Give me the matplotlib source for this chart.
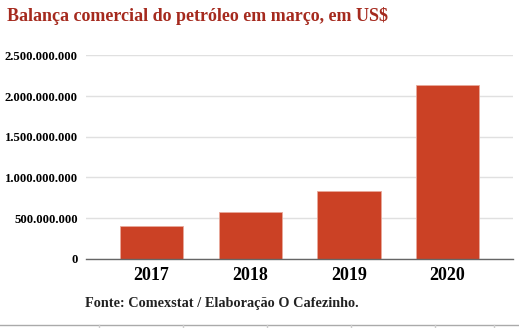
import matplotlib.pyplot as plt
from matplotlib.lines import Line2D
from matplotlib.ticker import FuncFormatter

# dados
anos = ["2017", "2018", "2019", "2020"]
saldo = [402e6, 574e6, 828e6, 2134e6]
yticks = [0, 500e6, 1000e6, 1500e6, 2000e6, 2500e6]

plt.rcParams['font.family'] = ['Liberation Serif', 'DejaVu Serif']
plt.rcParams['font.weight'] = 'bold'

fig = plt.figure(figsize=(5.19, 3.28), dpi=100)
ax = fig.add_axes([86 / 519, 69.3 / 328, 427 / 519, 203.3 / 328])

x = range(len(anos))
ax.bar(x, saldo, width=0.644, color='#cb4125', edgecolor='#e8a99b', linewidth=0.6, zorder=3)

ax.set_xlim(-0.666, 3.664)
ax.set_ylim(0, 2500e6)
ax.set_yticks(yticks)
ax.yaxis.set_major_formatter(FuncFormatter(lambda v, p: f"{int(v):,}".replace(",", ".")))
ax.set_xticks(list(x))
ax.set_xticklabels(anos, fontsize=13, fontweight='bold')
ax.tick_params(axis='y', length=0, pad=6, labelsize=9.2)
ax.tick_params(axis='x', length=0, pad=6)

ax.grid(axis='y', color='#e0e0e0', linewidth=1, zorder=0)
for s in ['top', 'right', 'left']:
    ax.spines[s].set_visible(False)
ax.spines['bottom'].set_color('#666666')
ax.spines['bottom'].set_linewidth(1)
ax.spines['bottom'].set_zorder(4)

fig.text(7 / 519, 1 - 21 / 328, "Balança comercial do petróleo em março, em US$",
         fontsize=13, fontweight='bold', color='#a52a1e', va='baseline')
fig.text(85 / 519, 1 - 306.7 / 328, "Fonte: Comexstat / Elaboração O Cafezinho.",
         fontsize=10.3, fontweight='bold', color='#222222', va='baseline')

# borda inferior (tabela)
yb = 1 - 325 / 328
fig.add_artist(Line2D([0, 1], [yb, yb], color='#aaaaaa', linewidth=1, transform=fig.transFigure))
for xv in [99, 183.3, 267.3, 351.3, 435.3, 494]:
    fig.add_artist(Line2D([xv / 519, xv / 519], [0, yb], color='#cccccc', linewidth=1,
                          transform=fig.transFigure))

fig.savefig("out.png", dpi=100)
